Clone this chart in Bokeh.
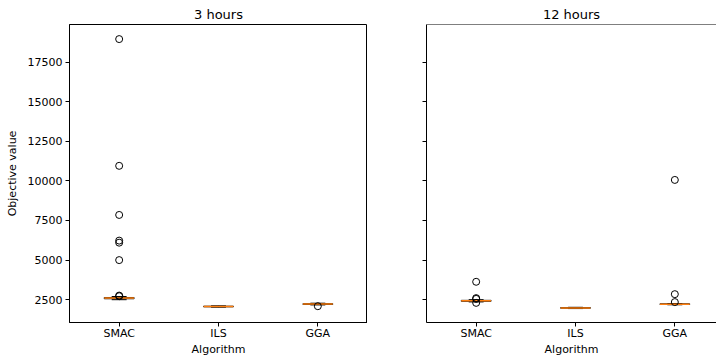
from bokeh.plotting import figure
from bokeh.layouts import row
from bokeh.models import Range1d, FixedTicker, Span
from bokeh.embed import file_html
from bokeh.resources import INLINE

algorithms = ["SMAC", "ILS", "GGA"]
panels = ["3 hours", "12 hours"]
yticks = [2500, 5000, 7500, 10000, 12500, 15000, 17500]

# 3 hours
q1_3h = [2560, 2050, 2200]
med_3h = [2600, 2070, 2225]
q3_3h = [2640, 2090, 2250]
lo_3h = [2500, 2030, 2170]
hi_3h = [2700, 2110, 2280]
fliers_3h = [[2720, 2760, 5000, 6100, 6230, 7850, 10950, 18950], [], [2090]]

# 12 hours
q1_12h = [2400, 1960, 2200]
med_12h = [2430, 1980, 2220]
q3_12h = [2460, 2000, 2240]
lo_12h = [2360, 1940, 2180]
hi_12h = [2500, 2020, 2260]
fliers_12h = [[2300, 2550, 2600, 3630], [], [2350, 2850, 10060]]

FONT = "DejaVu Sans"
ORANGE = "#ff7f0e"
Y0, Y1 = 1061, 19871
BOXW = 0.3
CAPW = 0.15


def style(p, show_ylabels):
    p.outline_line_color = "black"
    p.outline_line_width = 1
    p.xgrid.visible = False
    p.ygrid.visible = False
    p.background_fill_color = "white"
    p.border_fill_color = "white"
    p.title.align = "center"
    p.title.text_font = FONT
    p.title.text_font_size = "13px"
    p.title.text_font_style = "normal"
    p.title.text_color = "black"
    p.title.standoff = 6
    for ax in (p.xaxis[0], p.yaxis[0]):
        ax.axis_line_color = "black"
        ax.major_tick_line_color = "black"
        ax.minor_tick_line_color = None
        ax.major_tick_out = 4
        ax.major_tick_in = 0
        ax.major_label_text_font = FONT
        ax.major_label_text_font_size = "11px"
        ax.major_label_text_color = "black"
        ax.axis_label_text_font = FONT
        ax.axis_label_text_font_size = "11px"
        ax.axis_label_text_font_style = "normal"
        ax.axis_label_text_color = "black"
    p.xaxis[0].ticker = FixedTicker(ticks=[1, 2, 3])
    p.xaxis[0].major_label_overrides = {i + 1: a for i, a in enumerate(algorithms)}
    p.xaxis[0].axis_label = "Algorithm"
    p.xaxis[0].major_label_standoff = 0
    p.xaxis[0].axis_label_standoff = 0
    p.yaxis[0].ticker = FixedTicker(ticks=yticks)
    p.yaxis[0].major_label_standoff = 3
    if show_ylabels:
        p.yaxis[0].axis_label = "Objective value"
        p.yaxis[0].axis_label_standoff = 6
    else:
        p.yaxis[0].major_label_overrides = {t: "" for t in yticks}


def draw_boxes(p, q1, med, q3, lo, hi, fliers):
    xs = [i + 1 for i in range(len(algorithms))]
    # whiskers
    p.segment(x0=xs, y0=lo, x1=xs, y1=q1, line_color="black", line_width=1)
    p.segment(x0=xs, y0=q3, x1=xs, y1=hi, line_color="black", line_width=1)
    # caps
    p.segment(x0=[x - CAPW / 2 for x in xs], y0=lo, x1=[x + CAPW / 2 for x in xs], y1=lo,
              line_color="black", line_width=1)
    p.segment(x0=[x - CAPW / 2 for x in xs], y0=hi, x1=[x + CAPW / 2 for x in xs], y1=hi,
              line_color="black", line_width=1)
    # boxes
    p.quad(left=[x - BOXW / 2 for x in xs], right=[x + BOXW / 2 for x in xs],
           bottom=q1, top=q3, fill_color=None, line_color="black", line_width=1)
    # medians
    p.segment(x0=[x - BOXW / 2 for x in xs], y0=med, x1=[x + BOXW / 2 for x in xs], y1=med,
              line_color=ORANGE, line_width=1.5)
    # fliers
    fx, fy = [], []
    for x, fl in zip(xs, fliers):
        fx += [x] * len(fl)
        fy += fl
    p.scatter(fx, fy, marker="circle", size=7, fill_color=None,
              line_color="black", line_width=1)


H = 358
p1 = figure(width=367, height=H, output_backend="svg", toolbar_location=None,
            title=panels[0], x_range=Range1d(0.5, 3.5), y_range=Range1d(Y0, Y1),
            min_border_left=69, min_border_right=0, min_border_top=24, min_border_bottom=30)
style(p1, True)
draw_boxes(p1, q1_3h, med_3h, q3_3h, lo_3h, hi_3h, fliers_3h)

p2 = figure(width=349, height=H, output_backend="svg", toolbar_location=None,
            title=panels[1], x_range=Range1d(0.5, 0.5 + 290 / 298 * 3), y_range=Range1d(Y0, Y1),
            min_border_left=59, min_border_right=0, min_border_top=24, min_border_bottom=30)
style(p2, False)
p2.outline_line_color = None
p2.title.offset = 4
p2.add_layout(Span(location=Y1, dimension="width", line_color="black", line_width=1))
draw_boxes(p2, q1_12h, med_12h, q3_12h, lo_12h, hi_12h, fliers_12h)

layout = row(p1, p2, spacing=0)
open("out.html", "w").write(file_html(layout, INLINE))
